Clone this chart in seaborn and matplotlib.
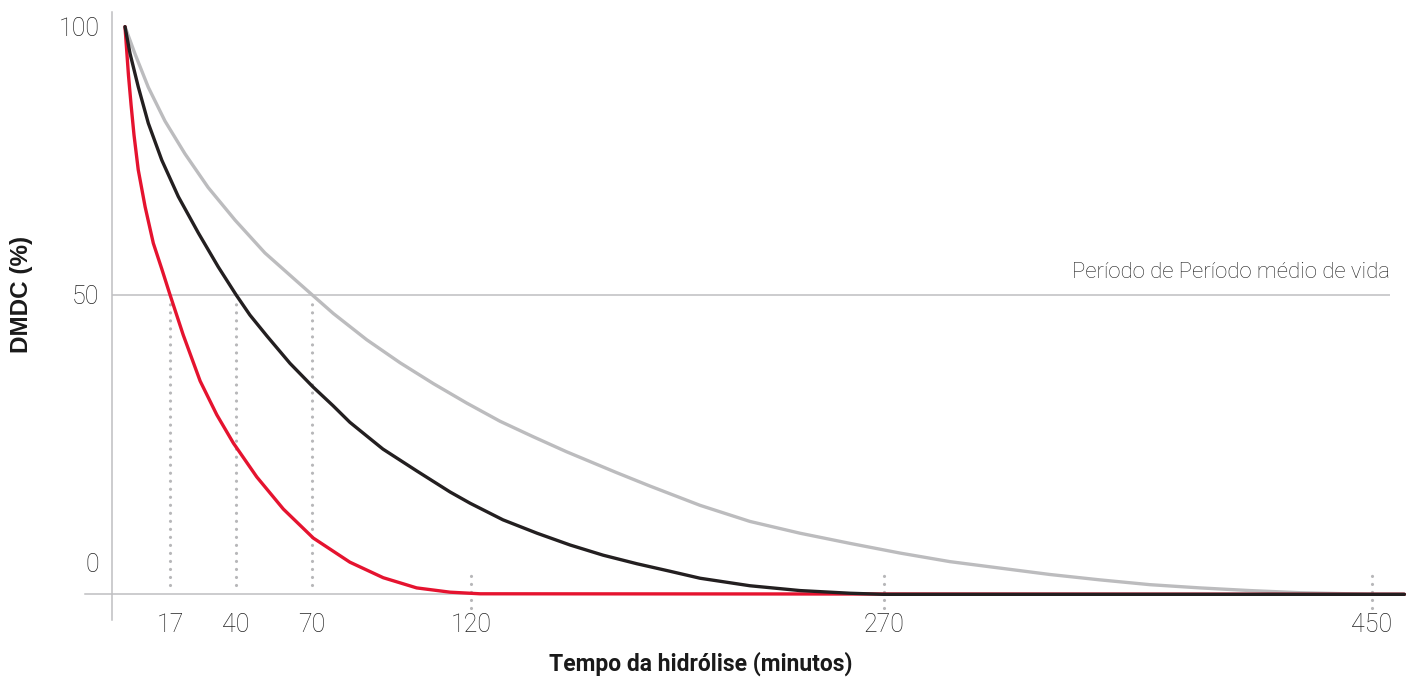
import numpy as np
import seaborn as sns
import matplotlib.pyplot as plt
import pandas as pd

# DMDC (%) ao longo do tempo de hidrólise (minutos)
red_t = [0, 1.3, 2.3, 3.4, 5.0, 7.6, 10.7, 13.9, 17, 21.6, 27.5, 33.3, 39.1, 48.2, 58.7,
         70.4, 81.9, 92.4, 102.9, 113.4, 123.3, 462]
red_v = [100, 91.0, 85.4, 79.8, 73.3, 66.4, 59.6, 54.8, 50, 42.5, 33.9, 27.6, 22.3, 16.0, 10.0,
         4.6, 0.1, -2.8, -4.7, -5.5, -5.8, -5.9]

black_t = [0, 1.9, 5.0, 8.8, 13.9, 19.9, 26.9, 33.8, 40, 45.5, 52.2, 61.3, 70.3, 76.6, 81.9,
           87.3, 92.3, 103.0, 113.4, 119.7, 131.6, 144.0, 156.0, 168.0, 180.3, 192.3,
           203.2, 221.3, 239.5, 257.7, 269.7, 462]
black_v = [100, 95.0, 88.8, 82.0, 75.1, 68.3, 61.5, 55.2, 50, 46.2, 42.3, 37.2, 32.8, 29.3, 26.2,
           23.6, 21.2, 17.1, 13.2, 11.1, 8.0, 5.5, 3.3, 1.4, -0.2, -1.6,
           -2.9, -4.3, -5.2, -5.7, -5.9, -5.9]

grey_t = [0, 3.8, 8.8, 15.1, 22.2, 30.3, 39.7, 51.4, 63.3, 70, 76.7, 87.2, 97.7, 108.2,
          118.6, 130.5, 142.6, 154.7, 172.9, 185.0, 203.2, 221.3, 239.5, 257.7, 275.9,
          294.3, 312.7, 331.2, 349.6, 368.1, 386.5, 405.0, 423.4, 450, 462]
grey_v = [100, 94.9, 88.7, 82.4, 76.3, 70.0, 63.9, 57.8, 52.8, 50, 46.5, 41.6, 37.3, 33.4,
          29.8, 26.4, 23.5, 20.7, 16.8, 14.3, 10.7, 7.7, 5.5, 3.6, 1.8,
          0.2, -1.0, -2.2, -3.2, -4.1, -4.7, -5.2, -5.6, -5.9, -5.9]

half_life = [17, 40, 70]
end_times = [120, 270, 450]
x_ticks = [17, 40, 70, 120, 270, 450]
y_ticks = [100, 50, 0]
base = -5.93

df = pd.concat([
    pd.DataFrame({'t': grey_t, 'v': grey_v, 'serie': 'c'}),
    pd.DataFrame({'t': red_t, 'v': red_v, 'serie': 'a'}),
    pd.DataFrame({'t': black_t, 'v': black_v, 'serie': 'b'}),
])

# o eixo do original nao e linear: escala por trechos entre as marcas
knot_t = [-50, 0, 17, 40, 70, 120, 270, 450, 500]
knot_px = [-10, 125, 170, 236, 312, 471, 884, 1372, 1507]


def fwd(t):
    return np.interp(t, knot_t, knot_px)


def inv(p):
    return np.interp(p, knot_px, knot_t)


sns.set_style('white')
plt.rcParams['font.family'] = ['Roboto', 'DejaVu Sans']

fig = plt.figure(figsize=(14.06, 6.78), dpi=100)
ax = fig.add_axes([0, 0, 1, 1])
ax.patch.set_alpha(0)
ax.set_xscale('function', functions=(fwd, inv))
ax.set_xlim(inv(0), inv(1406))
ax.set_ylim((562.7 - 678) / 5.36, 562.7 / 5.36)

grid_c = '#bfbfc1'
dot_c = '#b7b7b9'
x0 = float(inv(112))
ax.hlines(50, x0, float(inv(1390)), color=grid_c, lw=1.1, zorder=1)
ax.vlines(half_life, -4.2, 48.5, color=dot_c, lw=2.3, linestyles=(0, (0.01, 2.5)),
          capstyle='round', zorder=1)
ax.vlines(end_times, -8.5, -1.0, color=dot_c, lw=2.3, linestyles=(0, (0.01, 2.5)),
          capstyle='round', zorder=1)

sns.lineplot(data=df, x='t', y='v', hue='serie', sort=False, estimator=None,
             palette={'a': '#e5132f', 'b': '#231f20', 'c': '#bcbcbe'},
             hue_order=['c', 'a', 'b'], linewidth=2.4, legend=False, ax=ax, zorder=3)

for s in ['top', 'right']:
    ax.spines[s].set_visible(False)
ax.spines['left'].set_position(('data', x0))
ax.spines['left'].set_bounds(-10.7, 102.7)
ax.spines['bottom'].set_position(('data', base))
ax.spines['bottom'].set_bounds(float(inv(85)), float(inv(1406)))
for s in ['left', 'bottom']:
    ax.spines[s].set_color(grid_c)
    ax.spines[s].set_linewidth(1.1)

ax.set_xticks(x_ticks)
ax.set_xticklabels([str(x) for x in x_ticks])
ax.xaxis.set_minor_locator(plt.NullLocator())
ax.set_yticks(y_ticks)
ax.set_yticklabels([str(y) for y in y_ticks])
ax.tick_params(axis='both', length=0, labelsize=18, labelcolor='#222222')
ax.tick_params(axis='y', pad=9)
ax.tick_params(axis='x', pad=13)
for lab in ax.get_xticklabels() + ax.get_yticklabels():
    lab.set_fontweight('light')

ax.text(float(inv(1390)), 53.1, 'Período de Período médio de vida', ha='right',
        va='baseline', fontsize=15.9, fontweight='light', color='#222222')

ax.set_xlabel('Tempo da hidrólise (minutos)', fontsize=16.5, fontweight='bold',
              color='#1a1a1a')
ax.xaxis.set_label_coords(700.5 / 1406, 26 / 678)
ax.set_ylabel('DMDC (%)', fontsize=17.5, fontweight='bold', color='#1a1a1a',
              family=['Liberation Sans', 'DejaVu Sans'])
ax.yaxis.set_label_coords(33 / 1406, (678 - 294) / 678)

fig.savefig('out.png', dpi=100)
